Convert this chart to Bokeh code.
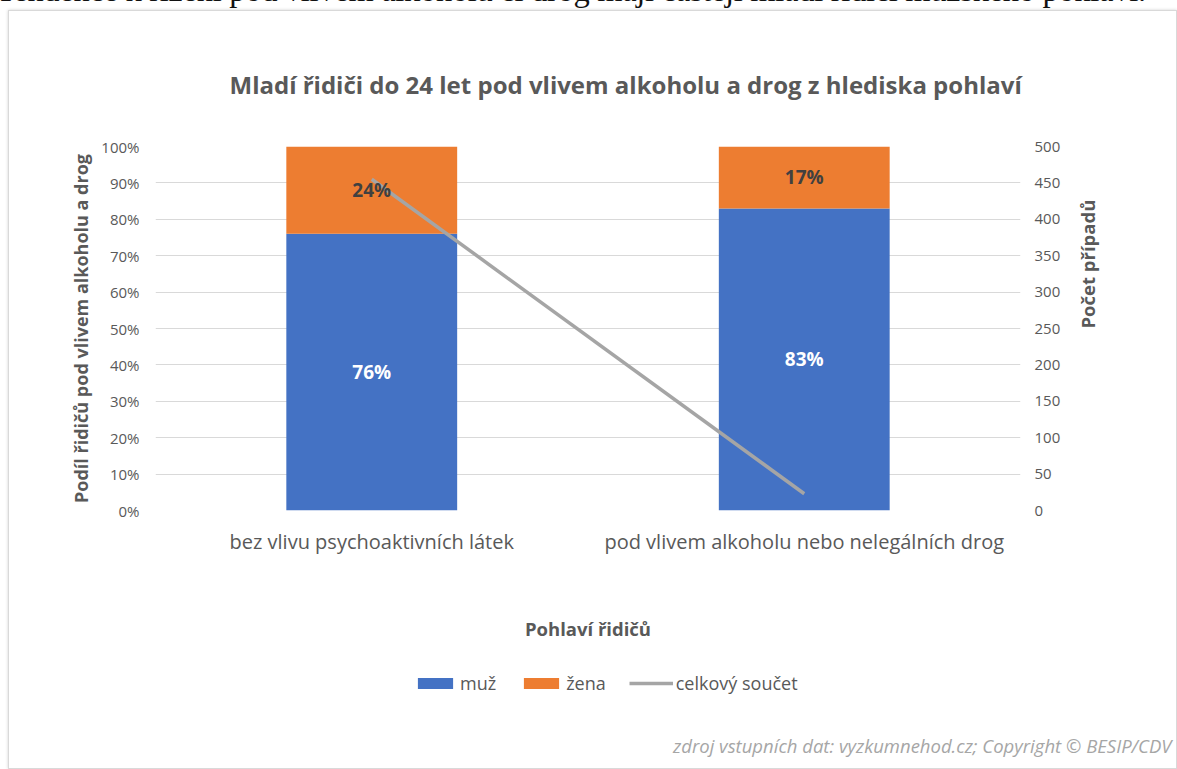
import math
from bokeh.plotting import figure
from bokeh.layouts import column
from bokeh.models import (ColumnDataSource, FactorRange, Range1d, LinearAxis, FixedTicker,
                          Legend, LegendItem, Title, Div)
from bokeh.core.properties import value
from bokeh.embed import file_html
from bokeh.resources import INLINE

intro = "Tendence k řízení pod vlivem alkoholu či drog mají častěji mladí řidiči mužského pohlaví."
categories = ["bez vlivu psychoaktivních látek", "pod vlivem alkoholu nebo nelegálních drog"]
muz = [0.76, 0.83]
zena = [0.24, 0.17]
celkem = [455, 23]
pct_ticks = [0, 0.1, 0.2, 0.3, 0.4, 0.5, 0.6, 0.7, 0.8, 0.9, 1.0]
pct_labels = ["0%", "10%", "20%", "30%", "40%", "50%", "60%", "70%", "80%", "90%", "100%"]
count_ticks = [0, 50, 100, 150, 200, 250, 300, 350, 400, 450, 500]
series_names = ["muž", "žena", "celkový součet"]
source_note = "zdroj vstupních dat: vyzkumnehod.cz; Copyright © BESIP/CDV"

FONT = "Open Sans"
TXT = "#595959"
BLUE = "#4472C4"
ORANGE = "#ED7D31"
GRAY = "#A5A5A5"

p = figure(x_range=FactorRange(factors=categories, range_padding=0),
           y_range=Range1d(0, 1), frame_width=865, frame_height=364,
           output_backend="svg", toolbar_location=None,
           min_border_left=146, min_border_right=156, min_border_top=135, min_border_bottom=150)
p.outline_line_color = None
p.extra_y_ranges = {"count": Range1d(0, 500)}

src = ColumnDataSource(dict(x=categories, muz=muz, zena=zena,
                            top2=[m + z for m, z in zip(muz, zena)],
                            ym=[m / 2 for m in muz],
                            yz=[m + z / 2 for m, z in zip(muz, zena)],
                            lm=["%d%%" % round(m * 100) for m in muz],
                            lz=["%d%%" % round(z * 100) for z in zena]))

p.vbar(x="x", bottom=0, top="muz", width=0.395, source=src, fill_color=BLUE, line_color=None)
p.vbar(x="x", bottom="muz", top="top2", width=0.395, source=src, fill_color=ORANGE, line_color=None)
p.line(x=categories, y=celkem, y_range_name="count", line_color=GRAY, line_width=3.5)

p.text(x="x", y="ym", text="lm", source=src, text_color="white", text_font=value(FONT),
       text_font_style="bold", text_font_size="19px", text_align="center", text_baseline="middle")
p.text(x="x", y="yz", text="lz", source=src, text_color="#404040", text_font=value(FONT),
       text_font_style="bold", text_font_size="19px", text_align="center", text_baseline="middle")

# grid
p.xgrid.grid_line_color = None
p.ygrid.ticker = FixedTicker(ticks=pct_ticks)
p.ygrid.grid_line_color = "#D9D9D9"
p.ygrid.grid_line_width = 1

# left axis
ya = p.yaxis[0]
ya.ticker = FixedTicker(ticks=pct_ticks)
ya.major_label_overrides = {t: l for t, l in zip(pct_ticks, pct_labels)}
ya.axis_line_color = None
ya.major_tick_line_color = None
ya.minor_tick_line_color = None
ya.major_label_standoff = 10
ya.major_label_text_font = FONT
ya.major_label_text_font_size = "15px"
ya.major_label_text_color = TXT
ya.axis_label = "Podíl řidičů pod vlivem alkoholu a drog"
ya.axis_label_text_font = FONT
ya.axis_label_text_font_style = "bold"
ya.axis_label_text_font_size = "18px"
ya.axis_label_text_color = TXT
ya.axis_label_standoff = 5

# right axis
ra = LinearAxis(y_range_name="count", ticker=FixedTicker(ticks=count_ticks))
ra.axis_line_color = None
ra.major_tick_line_color = None
ra.minor_tick_line_color = None
ra.major_label_standoff = 8
ra.major_label_text_font = FONT
ra.major_label_text_font_size = "15px"
ra.major_label_text_color = TXT
ra.axis_label = "Počet případů"
ra.axis_label_text_font = FONT
ra.axis_label_text_font_style = "bold"
ra.axis_label_text_font_size = "18.5px"
ra.axis_label_text_color = TXT
ra.axis_label_standoff = 24
ra.axis_label_orientation = math.pi / 2
p.add_layout(ra, "right")

# x axis
xa = p.xaxis[0]
xa.axis_line_color = None
xa.major_tick_line_color = None
xa.minor_tick_line_color = None
xa.major_label_standoff = 11
xa.major_label_text_font = FONT
xa.major_label_text_font_size = "20px"
xa.major_label_text_color = TXT
xa.axis_label = "Pohlaví řidičů"
xa.axis_label_text_font = FONT
xa.axis_label_text_font_style = "bold"
xa.axis_label_text_font_size = "18.5px"
xa.axis_label_text_color = TXT
xa.axis_label_standoff = 58

# title
p.title = Title(text="Mladí řidiči do 24 let pod vlivem alkoholu a drog z hlediska pohlaví",
                align="left", offset=74, standoff=91, text_font=FONT, text_font_size="24px",
                text_font_style="bold", text_color=TXT)

# ---- lower strip of the chart box: legend + source note ----
p2 = figure(x_range=Range1d(0, 1), y_range=Range1d(0, 1), width=1166, height=108,
            output_backend="svg", toolbar_location=None, x_axis_location=None, y_axis_location=None,
            min_border_left=0, min_border_right=0, min_border_top=0, min_border_bottom=0)
p2.outline_line_color = None
p2.xgrid.grid_line_color = None
p2.ygrid.grid_line_color = None

# zero-size proxies so the legend can draw its swatches
lg_m = p2.vbar(x=[0], top=[0], width=0, fill_color=BLUE, line_color=None)
lg_z = p2.vbar(x=[0], top=[0], width=0, fill_color=ORANGE, line_color=None)
lg_l = p2.line(x=[0, 0], y=[0, 0], line_color=GRAY, line_width=3.5)

legend = Legend(items=[LegendItem(label=series_names[0], renderers=[lg_m]),
                       LegendItem(label=series_names[1], renderers=[lg_z]),
                       LegendItem(label=series_names[2], renderers=[lg_l])],
                location=(258, 24), orientation="horizontal",
                glyph_width=44, glyph_height=14, label_standoff=3, spacing=23,
                padding=0, margin=0, border_line_color=None, background_fill_alpha=0,
                label_text_font=FONT, label_text_font_size="18px", label_text_color=TXT,
                label_height=14)
p2.add_layout(legend, "center")

note = Title(text=source_note, align="right", offset=-152, standoff=22, text_font=FONT,
             text_font_style="italic", text_font_size="18.5px", text_color="#A6A6A6")
p2.add_layout(note, "below")

box = column(p, p2, spacing=0,
             styles={"margin-top": "-4px", "margin-left": "8px", "border": "1px solid #D9D9D9",
                     "box-shadow": "0 0 3px rgba(0,0,0,0.18)"})

head = Div(text=intro, width=1177, height=38,
           styles={"margin-top": "-29px", "margin-left": "-4px", "font-family": "Liberation Serif",
                   "font-size": "32.5px", "line-height": "38px", "color": "#111111",
                   "white-space": "nowrap", "letter-spacing": "-0.3px"})

layout = column(head, box, spacing=0)
open("out.html", "w").write(file_html(layout, INLINE))
